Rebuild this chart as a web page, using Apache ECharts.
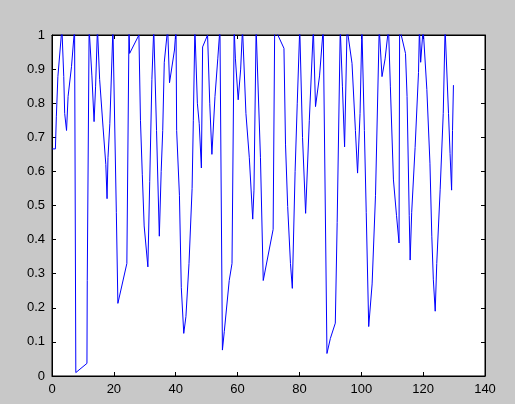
<!DOCTYPE html>
<html>
<head>
<meta charset="utf-8">
<script src="https://cdn.jsdelivr.net/npm/echarts@6/dist/echarts.min.js"></script>
<style>
  html, body { margin: 0; padding: 0; background: #c8c8c8; }
  #chart { width: 515px; height: 404px; }
</style>
</head>
<body>
<div id="chart"></div>
<script>
// vertices (x, value); peaks above 1 get clipped by the axes box
const xs = [
  0.1, 1.1, 1.4, 1.9, 3.2, 3.8, 4.1, 4.7, 5.2, 6.3, 7.3, 7.7, 11.3, 11.4, 12.0, 12.9, 13.6, 14.1, 14.7,
  15.4, 16.5, 17.4, 17.8, 18.1, 18.7, 19.7, 20.8, 21.3, 24.2, 24.9, 25.1, 28.1, 28.6, 29.2, 29.8,
  31.0, 31.6, 32.3, 32.9, 33.8, 34.7, 35.3, 35.8, 36.3, 37.4, 38.0, 39.6, 40.1, 40.3, 41.2, 41.8,
  42.6, 43.3, 44.3, 45.3, 45.7, 46.2, 47.0, 47.6, 48.3, 48.7, 50.3, 51.0, 51.7, 52.7, 53.6, 54.3,
  55.1, 55.7, 57.3, 58.2, 58.9, 59.3, 60.2, 61.0, 61.6, 62.7, 63.8, 64.9, 65.3, 66.0, 67.4, 68.3,
  71.5, 72.0, 75.0, 75.5, 76.2, 77.1, 77.7, 78.6, 79.3, 80.1, 81.0, 82.0, 83.2, 84.5, 85.2, 86.5,
  87.7, 88.9, 90.0, 91.6, 92.2, 93.2, 93.9, 94.6, 95.4, 97.0, 98.1, 98.8, 99.6, 100.2, 101.0,
  101.6, 102.4, 103.5, 104.6, 105.8, 106.7, 107.7, 108.8, 109.4, 110.4, 111.4, 112.2, 112.4,
  114.3, 114.8, 115.5, 115.8, 116.3, 117.4, 118.5, 118.8, 119.2, 120.0, 121.2, 122.2, 122.8,
  123.3, 123.9, 124.4, 125.5, 126.5, 127.1, 128.2, 128.7, 129.2, 129.5, 129.8
];
const ys = [
  0.666, 0.666, 0.76, 0.878, 1.02, 0.878, 0.77, 0.72, 0.82, 0.907, 1.02, 0.01, 0.037, 0.28, 1.02, 0.88, 0.746, 0.85, 1.02,
  0.87, 0.73, 0.62, 0.52, 0.64, 0.74, 1.02, 0.48, 0.213, 0.33, 1.02, 0.946, 1.0, 0.75, 0.59, 0.44,
  0.32, 0.57, 0.87, 1.02, 0.72, 0.41, 0.6, 0.72, 0.92, 1.02, 0.86, 0.956, 1.02, 0.72, 0.53, 0.26,
  0.125, 0.174, 0.33, 0.55, 0.75, 1.02, 0.8, 0.74, 0.61, 0.965, 1.0, 0.8, 0.65, 0.82, 0.93, 1.02,
  0.076, 0.13, 0.28, 0.33, 1.02, 0.93, 0.81, 0.9, 1.02, 0.77, 0.64, 0.46, 0.545, 1.02, 0.64, 0.28,
  0.43, 1.02, 0.961, 0.68, 0.497, 0.33, 0.257, 0.6, 0.8, 1.02, 0.7, 0.477, 0.75, 1.02, 0.79, 0.88,
  1.02, 0.066, 0.11, 0.155, 0.45, 1.02, 0.85, 0.672, 1.02, 0.917, 0.72, 0.595, 0.77, 1.02, 0.72,
  0.48, 0.145, 0.27, 0.53, 1.02, 0.878, 0.93, 1.02, 0.85, 0.575, 0.47, 0.39, 1.02,
  0.946, 0.82, 0.47, 0.34, 0.48, 0.67, 0.89, 1.02, 0.92, 1.02, 0.84, 0.624, 0.41,
  0.282, 0.19, 0.33, 0.546, 0.77, 1.02, 0.77, 0.653, 0.545, 0.72, 0.853
];

const chart = echarts.init(document.getElementById('chart'));

const labelStyle = {
  color: '#000',
  fontFamily: 'Liberation Sans, Arial, sans-serif',
  fontSize: 13,
  margin: 7
};
const tickStyle = { show: true, inside: true, length: 4, lineStyle: { color: '#000' } };
const lineStyle = { show: true, onZero: false, lineStyle: { color: '#000', width: 1 } };

const option = {
  animation: false,
  backgroundColor: '#c8c8c8',
  grid: {
    left: 52, right: 30, top: 35, bottom: 28,
    show: true,
    backgroundColor: '#fff',
    borderColor: '#000',
    borderWidth: 1
  },
  xAxis: [
    {
      type: 'value', min: 0, max: 140, interval: 20,
      axisLine: lineStyle, axisTick: tickStyle, axisLabel: labelStyle,
      splitLine: { show: false }
    },
    {
      type: 'value', position: 'top', min: 0, max: 140, interval: 20,
      axisLine: lineStyle, axisTick: tickStyle, axisLabel: { show: false },
      splitLine: { show: false }
    }
  ],
  yAxis: [
    {
      type: 'value', min: 0, max: 1, interval: 0.1,
      axisLine: lineStyle, axisTick: tickStyle, axisLabel: labelStyle,
      splitLine: { show: false }
    },
    {
      type: 'value', position: 'right', min: 0, max: 1, interval: 0.1,
      axisLine: lineStyle, axisTick: tickStyle, axisLabel: { show: false },
      splitLine: { show: false }
    }
  ],
  series: [
    {
      type: 'line',
      data: xs.map((x, i) => [x, ys[i]]),
      symbol: 'none',
      clip: true,
      lineStyle: { color: '#0000ff', width: 1 }
    }
  ]
};

chart.setOption(option);
</script>
</body>
</html>
